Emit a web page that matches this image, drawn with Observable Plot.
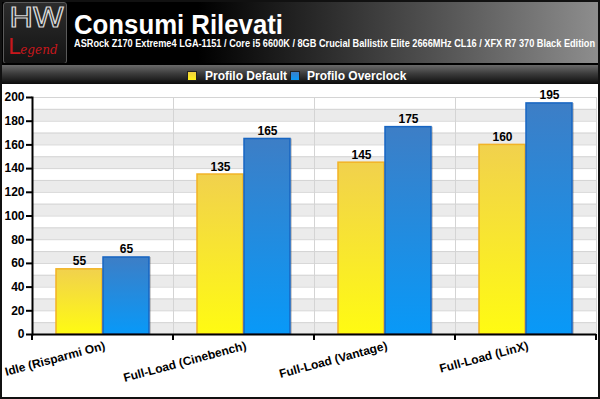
<!DOCTYPE html>
<html>
<head>
<meta charset="utf-8">
<script src="https://cdn.jsdelivr.net/npm/d3@7"></script>
<script src="https://cdn.jsdelivr.net/npm/@observablehq/plot@0.6"></script>
<style>
  body { margin: 0; background: #fff; font-family: "Liberation Sans", Arial, sans-serif; }
  #wrap { position: relative; width: 600px; height: 399px; overflow: hidden; background: #fff; }
  #header { position: absolute; left: 0; top: 0; width: 600px; height: 64px;
    background: linear-gradient(to right, #000 0%, #000 33%, #575757 75%, #8e8e8e 100%); }
  #logo { position: absolute; left: 3px; top: 2px; width: 64px; height: 62px; box-sizing: border-box;
    background: linear-gradient(#2c2c2c, #141414); border: 1px solid #5a5a5a; border-radius: 3px; overflow: hidden; }
  #logo .hw { position: absolute; left: 5px; top: 1px; font-family: "DejaVu Sans", sans-serif; font-size: 26px; line-height: 28px;
    color: transparent; -webkit-text-stroke: 1.1px #d8d8d8; letter-spacing: -1px; transform: scaleX(1.25); transform-origin: left top; }
  #logo .lg { position: absolute; left: 4px; top: 32px; line-height: 24px; color: #c8171c; font-family: "DejaVu Serif", serif; font-style: italic; font-size: 12px; white-space: nowrap; }
  #logo .lg b { font-size: 22px; font-weight: normal; font-style: normal; font-family: "DejaVu Sans", sans-serif; }
  #title { position: absolute; left: 74px; top: 11px; color: #fff; font-weight: bold; font-size: 28px; line-height: 28px; white-space: nowrap; transform-origin: left top; }
  #subtitle { position: absolute; left: 74px; top: 39px; color: #fff; font-weight: bold; font-size: 10px; line-height: 10px; white-space: nowrap; transform-origin: left top; }
  #sep { position: absolute; left: 0; top: 63px; width: 600px; height: 2px; background: #000; }
  #legendbar { position: absolute; left: 0; top: 65px; width: 600px; height: 19px;
    background: linear-gradient(#6a6a6a, #3c3c3c 45%, #0c0c0c); }
  .sw { position: absolute; top: 71px; width: 8px; height: 8px; border: 1px solid #222; box-sizing: content-box; }
  .lt { position: absolute; top: 70px; color: #fff; font-weight: bold; font-size: 12px; line-height: 12px; white-space: nowrap; }
  #chart { position: absolute; left: 0; top: 84px; }
  #border { position: absolute; left: 0; top: 0; width: 600px; height: 399px; box-sizing: border-box; border: 2px solid #111; pointer-events: none; }
</style>
</head>
<body>
<div id="wrap">
  <div id="header">
    <div id="logo"><div class="hw">HW</div><div class="lg"><b>L</b>egend</div></div>
    <div id="title">Consumi Rilevati</div>
    <div id="subtitle">ASRock Z170 Extreme4 LGA-1151 / Core i5 6600K / 8GB Crucial Ballistix Elite 2666MHz CL16 / XFX R7 370 Black Edition</div>
  </div>
  <div id="sep"></div>
  <div id="legendbar"></div>
  <div class="sw" style="left:187px;background:linear-gradient(#f0cf40,#fff21a);"></div>
  <div class="lt" style="left:205px;">Profilo Default</div>
  <div class="sw" style="left:290px;background:linear-gradient(#3b7fc7,#0a99f7);"></div>
  <div class="lt" style="left:307px;">Profilo Overclock</div>
  <div id="chart"></div>
  <div id="border"></div>
</div>
<script>
// ---- data ----
const categories = ["Idle (Risparmi On)", "Full-Load (Cinebench)", "Full-Load (Vantage)", "Full-Load (LinX)"];
const seriesNames = ["Profilo Default", "Profilo Overclock"];
const defaultValues = [55, 135, 145, 160];
const overclockValues = [65, 165, 175, 195];
const yTicks = [0, 20, 40, 60, 80, 100, 120, 140, 160, 180, 200];

// ---- table built from the arrays ----
const data = categories.flatMap((c, i) => [
  {category: c, series: seriesNames[0], value: defaultValues[i]},
  {category: c, series: seriesNames[1], value: overclockValues[i]}
]);

// styles
const fills = {"Profilo Default": "url(#gradDefault)", "Profilo Overclock": "url(#gradOverclock)"};
const strokes = {"Profilo Default": "#f2b326", "Profilo Overclock": "#1765c2"};
const bandStarts = yTicks.slice(0, -1);
const gridLines = yTicks.flatMap((t, i) => i < yTicks.length - 1 ? [t, (t + yTicks[i + 1]) / 2] : [t]);

function boundaryTicks(index, scales, values, dims) {
  const y0 = dims.height - dims.marginBottom;
  const xl = dims.marginLeft, xr = dims.width - dims.marginRight;
  const g = d3.create("svg:g").attr("stroke", "#000").attr("stroke-width", 2);
  for (const x of [xl, xr]) g.append("line").attr("x1", x).attr("x2", x).attr("y1", y0).attr("y2", y0 + 6);
  return g.node();
}

const chart = Plot.plot({
  width: 600, height: 315,
  marginLeft: 32, marginRight: 4, marginTop: 13, marginBottom: 65,
  style: {fontFamily: "'Liberation Sans', Arial, sans-serif", fontSize: "12px", color: "#000", background: "transparent", overflow: "visible"},
  fx: {domain: categories, padding: 0, label: null},
  x: {domain: seriesNames, paddingInner: 0.02, paddingOuter: 0.5, axis: null},
  y: {domain: [0, 200], label: null},
  color: {type: "identity"},
  marks: [
    Plot.rect(bandStarts, {y1: d => d, y2: d => d + 10, fill: "#ebebeb"}),
    Plot.ruleY(gridLines, {stroke: "#d4d4d4"}),
    Plot.frame({anchor: "left", stroke: "#d4d4d4"}),
    Plot.frame({anchor: "right", stroke: "#d4d4d4"}),
    Plot.barY(data, {fx: "category", x: "series", y: "value", fill: "#000", fillOpacity: 0.18, dx: 2}),
    Plot.barY(data, {fx: "category", x: "series", y: "value", fill: d => fills[d.series], stroke: d => strokes[d.series], strokeWidth: 1.5}),
    Plot.text(data, {fx: "category", x: "series", y: "value", text: d => String(d.value), dy: -4, lineAnchor: "bottom", fontWeight: "bold", fontSize: 12}),
    Plot.ruleY([0], {stroke: "#000", strokeWidth: 2}),
    boundaryTicks,
    Plot.frame({anchor: "left", stroke: "#000", strokeWidth: 2, facetAnchor: "left"}),
    Plot.axisY({ticks: yTicks, tickSize: 6, tickPadding: 2, strokeWidth: 2, fontWeight: "bold", fontSize: 12, label: null}),
    Plot.axisFx({anchor: "bottom", tickSize: 0, tickRotate: -15, tickPadding: 11, dx: 2, fontWeight: "bold", fontSize: 12, label: null})
  ]
});

const ns = "http://www.w3.org/2000/svg";
const svg = chart.tagName.toLowerCase() === "svg" ? chart : chart.querySelector("svg");
const defs = document.createElementNS(ns, "defs");
defs.innerHTML = `
  <linearGradient id="gradDefault" x1="0" y1="0" x2="0" y2="1">
    <stop offset="0" stop-color="#f1d14d"/><stop offset="1" stop-color="#fffb12"/>
  </linearGradient>
  <linearGradient id="gradOverclock" x1="0" y1="0" x2="0" y2="1">
    <stop offset="0" stop-color="#3d7ec6"/><stop offset="1" stop-color="#0899f8"/>
  </linearGradient>`;
svg.insertBefore(defs, svg.firstChild);
document.getElementById("chart").appendChild(chart);

// fit header texts to the reference widths
function fitWidth(id, target) {
  const el = document.getElementById(id);
  const w = el.getBoundingClientRect().width;
  if (w > 0) el.style.transform = `scaleX(${target / w})`;
}
fitWidth("title", 209);
fitWidth("subtitle", 521);
</script>
</body>
</html>
